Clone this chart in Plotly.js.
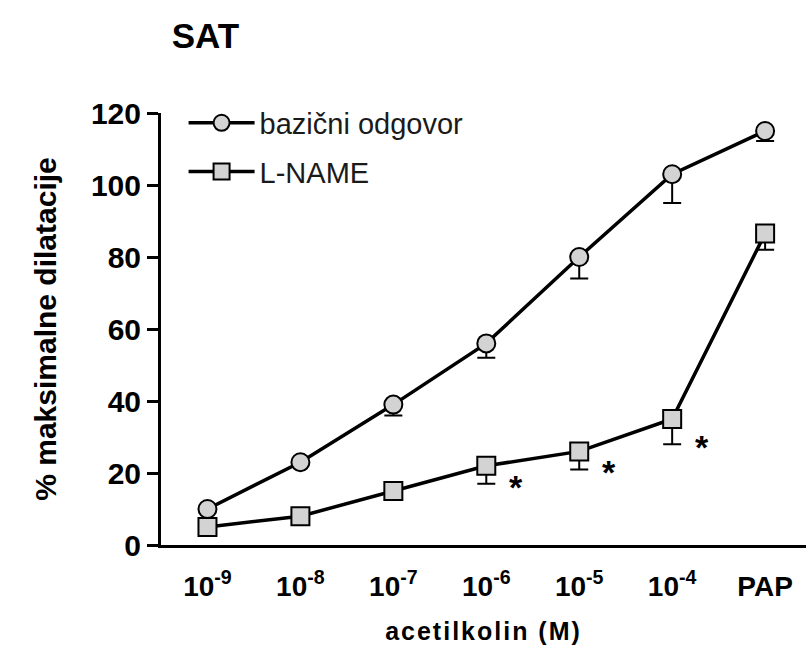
<!DOCTYPE html>
<html>
<head>
<meta charset="utf-8">
<script src="https://cdn.plot.ly/plotly-3.0.1.min.js"></script>
<style>
html,body{margin:0;padding:0;background:#fff;}
#chart{width:806px;height:653px;}
.xtitle{letter-spacing:2px;}
</style>
</head>
<body>
<div id="chart"></div>
<script>
const categories = ['10<sup>-9</sup>','10<sup>-8</sup>','10<sup>-7</sup>','10<sup>-6</sup>','10<sup>-5</sup>','10<sup>-4</sup>','PAP'];
const baseName = 'bazični odgovor';
const baseValues = [10, 23, 39, 56, 80, 103, 115];
const baseErrDown = [0, 0, 3, 4, 6, 8, 2.8];
const lnameName = 'L-NAME';
const lnameValues = [5, 8, 15, 22, 26, 35, 86.5];
const lnameErrDown = [0, 0, 0, 5, 5, 7, 4.5];
const starCategories = ['10<sup>-6</sup>','10<sup>-5</sup>','10<sup>-4</sup>'];
const starIdx = [3, 4, 5];

const markerFill = '#d3d3d3';
function zeros(n){ return new Array(n).fill(0); }

const traces = [
  {
    x: categories, y: baseValues, name: baseName, type: 'scatter', mode: 'lines+markers',
    legendgroup: 'a',
    line: {color: '#000', width: 3.5},
    marker: {symbol: 'circle', size: 18, color: markerFill, line: {color: '#000', width: 2}},
    error_y: {type: 'data', symmetric: false, array: zeros(baseValues.length), arrayminus: baseErrDown,
              color: '#000', thickness: 2, width: 9}
  },
  {
    x: categories, y: lnameValues, name: lnameName, type: 'scatter', mode: 'lines+markers',
    legendgroup: 'b',
    line: {color: '#000', width: 3.5},
    marker: {symbol: 'square', size: 18, color: markerFill, line: {color: '#000', width: 2}},
    error_y: {type: 'data', symmetric: false, array: zeros(lnameValues.length), arrayminus: lnameErrDown,
              color: '#000', thickness: 2, width: 9}
  }
];

const annotations = starCategories.map((c, k) => ({
  x: c, y: lnameValues[starIdx[k]] - lnameErrDown[starIdx[k]], xref: 'x', yref: 'y',
  text: '<b>*</b>', showarrow: false, xshift: 30, yshift: -3,
  font: {family: 'Liberation Sans, Arial, sans-serif', size: 34, color: '#000'}
}));

const layout = {
  width: 806, height: 653,
  margin: {l: 161, r: 0, t: 113, b: 108},
  paper_bgcolor: '#fff', plot_bgcolor: '#fff',
  font: {family: 'Liberation Sans, Arial, sans-serif', color: '#000'},
  title: {text: '<b>SAT</b>', x: 0.213, xanchor: 'left', xref: 'container', y: 0.945, yanchor: 'middle',
          font: {size: 35, color: '#000', family: 'Liberation Sans, Arial, sans-serif'}},
  showlegend: true,
  legend: {x: 0.035, y: 1.036, xanchor: 'left', yanchor: 'top', bgcolor: 'rgba(0,0,0,0)',
           font: {size: 29, color: '#1a1a1a'}, tracegroupgap: 8, itemwidth: 66},
  xaxis: {
    type: 'category', range: [-0.5, 6.44],
    showline: true, linecolor: '#000', linewidth: 3,
    ticks: 'outside', ticklen: 14, tickcolor: 'rgba(0,0,0,0)',
    showgrid: false, zeroline: false,
    tickfont: {size: 28, weight: 'bold', color: '#000'},
    title: {text: 'acetilkolin (M)', standoff: 22, font: {size: 25, weight: 'bold', color: '#000'}}
  },
  yaxis: {
    range: [0, 120], dtick: 20, tick0: 0,
    showline: true, linecolor: '#000', linewidth: 3,
    ticks: 'outside', ticklen: 11, tickwidth: 3, tickcolor: '#000',
    showgrid: false, zeroline: false,
    tickfont: {size: 30, weight: 'bold', color: '#000'},
    title: {text: '% maksimalne dilatacije', standoff: 26, font: {size: 30, weight: 'bold', color: '#000'}}
  },
  annotations: annotations
};

Plotly.newPlot('chart', traces, layout, {displayModeBar: false, staticPlot: true});
</script>
</body>
</html>
